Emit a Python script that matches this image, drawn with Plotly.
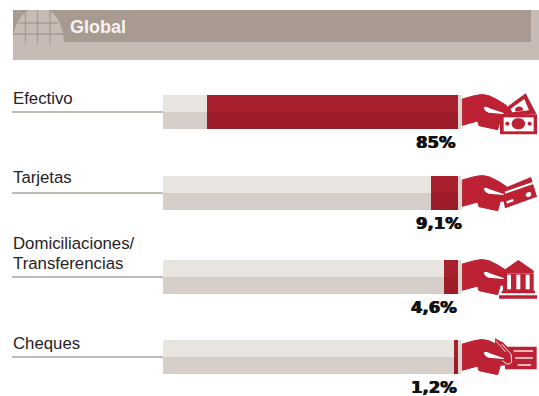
import plotly.graph_objects as go

# Data
categories = ["Efectivo", "Tarjetas", "Domiciliaciones/<br>Transferencias", "Cheques"]
shares = [85, 9.1, 4.6, 1.2]
full_scale = [100, 100, 100, 100]
title_text = "Global"

# Page geometry, in pixels
W, H = 539, 396
ZERO_X, PX_PER_PCT = 458.0, 2.95
ROW_Y = [112, 193, 277, 357]
HALF_H = 17
LABEL_BASELINES = [[105.5], [185], [250.5, 270.5], [350.5]]
VALUE_CENTER = [436, 438.5, 433.5, 434]

RED, RED_DARK = "#A81F2E", "#9C1C2A"
ICON_RED = "#BC2134"
TRACK_LIGHT, TRACK_DARK = "#E8E4DF", "#D6CFC9"
HEAD_DARK, HEAD_LIGHT = "#A89A90", "#C6BCB5"
RULE = "#B0A39A"


def px_path(spec, ox=0.0, oy=0.0, k=1.0):
    """Turn an SVG-like path given in pixels into paper coordinates."""
    out, is_x = [], True
    for tok in spec.split():
        if tok.isalpha():
            out.append(tok)
            continue
        v = float(tok)
        if is_x:
            out.append(f"{(ox + v * k) / W:.5f}")
        else:
            out.append(f"{1 - (oy + v * k) / H:.5f}")
        is_x = not is_x
    return " ".join(out)


def blob(spec, color, ox=0.0, oy=0.0, k=1.0, layer="above", edge=0):
    return dict(type="path", xref="paper", yref="paper", path=px_path(spec, ox, oy, k),
                fillcolor=color, line=dict(width=edge, color=color), layer=layer)


def stroke(spec, color, width, ox=0.0, oy=0.0, k=1.0, layer="above"):
    return dict(type="path", xref="paper", yref="paper", path=px_path(spec, ox, oy, k),
                line=dict(color=color, width=width), layer=layer)


def box(x0, y0, x1, y1, color, layer="below"):
    return dict(type="rect", xref="paper", yref="paper",
                x0=x0 / W, x1=x1 / W, y0=1 - y0 / H, y1=1 - y1 / H,
                fillcolor=color, line=dict(width=0), layer=layer)


fig = go.Figure()

# Two-tone bars: each row is a light upper half and a darker lower half
for offset, track_col, red_col in [(-HALF_H / 2, TRACK_LIGHT, RED), (HALF_H / 2, TRACK_DARK, RED_DARK)]:
    ys = [y + offset for y in ROW_Y]
    fig.add_trace(go.Bar(y=ys, x=full_scale, orientation="h", width=HALF_H,
                         marker=dict(color=track_col, line=dict(width=0)), hoverinfo="skip"))
    fig.add_trace(go.Bar(y=ys, x=shares, orientation="h", width=HALF_H,
                         marker=dict(color=red_col, line=dict(width=0)), hoverinfo="skip"))

shapes = []

# Header band with its globe
shapes.append(box(13, 10, 539, 60, HEAD_LIGHT))
shapes.append(box(13, 10, 531, 42, HEAD_DARK))
shapes.append(blob("M 13 42 L 13 36 C 16 22 24 10 31 10 L 46 10 C 54 10 61 22 63.5 36 L 63.5 42 Z",
                   HEAD_LIGHT, layer="below"))
for gx in (25.5, 37.5, 50):
    shapes.append(stroke(f"M {gx} 10 L {gx} 42", HEAD_DARK, 1.3, layer="below"))
shapes.append(stroke("M 19 23 L 58 23", HEAD_DARK, 1.3, layer="below"))
shapes.append(stroke("M 13 34 L 64 34", HEAD_DARK, 1.3, layer="below"))
for gx in (25.5, 37.5, 50):
    shapes.append(stroke(f"M {gx} 42 L {gx} 47", "#BBB0A8", 1.2, layer="below"))

# Rules running from each label to its bar, end caps beside the bars
for y in ROW_Y:
    shapes.append(box(12, y - 0.8, 163, y + 0.8, RULE))
    shapes.append(box(458, y - HALF_H, 461.5, y + HALF_H, "#DDD7D1", layer="above"))

# Hand drawn in 3x units around the row centre (x from 455, y centred on 81)
HAND = ("M 22 42 L 58 32 Q 82 25 104 33 L 130 46 L 155 62 L 155 104 L 136 106 "
        "L 128 134 L 72 122 L 68 108 L 22 121 Z")
THUMB = "M 86 68 Q 93 62 104 70 L 146 84 L 146 87 L 110 84 Q 91 84 86 68 Z"

MONEY = [
    ("M 148 72 L 212 25 L 244 86 L 160 92 Z", ICON_RED),
    ("M 166 72 L 208 42 L 222 76 L 172 82 Z", "#FFFFFF"),
    ("M 180 72 Q 190 60 202 68 L 206 76 L 182 80 Z", ICON_RED),
    ("M 135 88 L 246 88 L 246 148 L 135 148 Z", ICON_RED),
    ("M 146 97 L 236 97 L 236 139 L 146 139 Z", "#FFFFFF"),
    ("M 170 116 C 170 94 210 94 210 116 C 210 138 170 138 170 116 Z", ICON_RED),
    ("M 151 116 C 151 108 163 108 163 116 C 163 124 151 124 151 116 Z", ICON_RED),
    ("M 218 116 C 218 108 230 108 230 116 C 230 124 218 124 218 116 Z", ICON_RED),
]
CARD = [
    ("M 138 70 L 228 33 L 246 92 L 150 127 Z", ICON_RED),
    ("M 149 77 L 233 48 L 235 54 L 151 83 Z", "#FFFFFF"),
    ("M 154 106 L 174 99 L 176 106 L 156 113 Z", "#FFFFFF"),
    ("M 212 87 C 212 78 228 74 229 84 C 229 94 213 96 212 87 Z", "#FFFFFF"),
]
BANK = [
    ("M 144 62 L 190 30 L 236 62 L 236 70 L 144 70 Z", ICON_RED),
    ("M 144 70 L 236 70 L 236 124 L 144 124 Z", ICON_RED),
    ("M 156 74 L 168 74 L 168 118 L 156 118 Z", "#FFFFFF"),
    ("M 184 74 L 196 74 L 196 118 L 184 118 Z", "#FFFFFF"),
    ("M 212 74 L 224 74 L 224 118 L 212 118 Z", "#FFFFFF"),
    ("M 140 122 L 240 122 L 240 130 L 140 130 Z", ICON_RED),
    ("M 132 136 L 246 136 L 246 146 L 132 146 Z", ICON_RED),
]
CHEQUE = [
    ("M 150 50 L 245 50 L 245 118 L 150 118 Z", ICON_RED),
    ("M 120 25 L 145 38 L 172 66 L 172 100 L 150 100 L 120 60 Z", ICON_RED),
    ("M 176 61 L 234 61 L 234 65 L 176 65 Z", "#FFFFFF"),
    ("M 180 82 L 234 82 L 234 86 L 180 86 Z", "#FFFFFF"),
    ("M 188 103 L 228 103 L 228 107 L 188 107 Z", "#FFFFFF"),
]

for y, parts in zip(ROW_Y, [MONEY, CARD, BANK, CHEQUE]):
    ox, oy = 455.0, y - 27.0
    shapes.append(blob(HAND, ICON_RED, ox, oy, 1 / 3, edge=1))
    for spec, col in parts:
        shapes.append(blob(spec, col, ox, oy, 1 / 3))
    shapes.append(blob(THUMB, "#FFFFFF", ox, oy, 1 / 3))

# Finger outlines over the cheque
ox, oy = 455.0, ROW_Y[3] - 27.0
shapes.append(stroke("M 140 42 L 168 72 L 170 96 Q 165 104 155 102 L 142 92", "#FFFFFF", 1.0, ox, oy, 1 / 3))
shapes.append(stroke("M 122 32 L 152 66", "#FFFFFF", 0.8, ox, oy, 1 / 3))

annotations = [dict(text=title_text, x=67.5 / W, y=1 - 35 / H, xref="paper", yref="paper",
                    xanchor="left", yanchor="bottom", showarrow=False, yshift=-4,
                    font=dict(family="Liberation Sans", size=18, color="#F6F3EF", weight="bold"))]

# Multi-line labels are set line by line for a tighter leading than the default
for label, bases in zip(categories, LABEL_BASELINES):
    for line, base in zip(label.split("<br>"), bases):
        annotations.append(dict(text=line, x=10.5 / W, y=1 - base / H, xref="paper", yref="paper",
                                xanchor="left", yanchor="bottom", yshift=-4, align="left",
                                showarrow=False,
                                font=dict(family="Liberation Sans", size=16.8, color="#26231F")))

for value, y, cx in zip(shares, ROW_Y, VALUE_CENTER):
    annotations.append(dict(text=f"{value:g}%".replace(".", ","), x=cx / W, y=1 - (y + 30) / H,
                            xref="paper", yref="paper", xanchor="center", yanchor="middle",
                            showarrow=False,
                            font=dict(family="DejaVu Sans", size=16.5, color="#111111", weight="bold",
                                      shadow="0.5px 0 0 #111111, -0.5px 0 0 #111111")))

fig.update_layout(
    width=W, height=H,
    margin=dict(l=0, r=0, t=0, b=0),
    paper_bgcolor="#FFFFFF", plot_bgcolor="rgba(0,0,0,0)",
    barmode="overlay", bargap=0, showlegend=False,
    xaxis=dict(range=[ZERO_X / PX_PER_PCT, (ZERO_X - W) / PX_PER_PCT], domain=[0, 1],
               visible=False, fixedrange=True),
    yaxis=dict(range=[H, 0], domain=[0, 1], visible=False, fixedrange=True),
    shapes=shapes, annotations=annotations,
)

fig.write_html("out.html", config=dict(displayModeBar=False))
